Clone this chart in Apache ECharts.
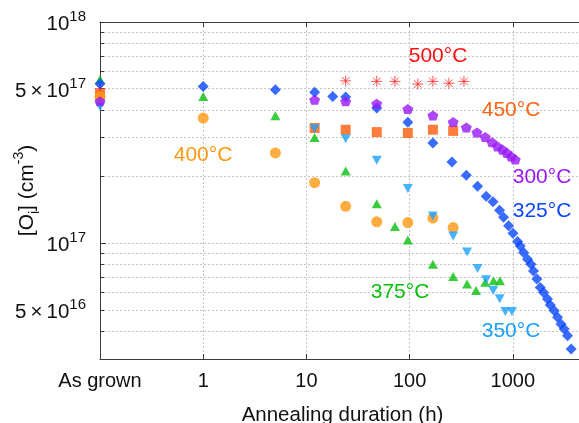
<!DOCTYPE html>
<html>
<head>
<meta charset="utf-8">
<script src="https://cdn.jsdelivr.net/npm/echarts@6/dist/echarts.min.js"></script>
<style>
  html, body { margin: 0; padding: 0; background: #fff; }
  #chart { width: 579px; height: 423px; }
</style>
</head>
<body>
<div id="chart"></div>
<script>
// Interstitial oxygen concentration vs. annealing time, one series per temperature.
// "As grown" samples are placed at 0.1 h on the log time axis.
const hours500 = [0.1, 24, 48, 72, 120, 168, 240, 336];
const oi500    = [5.0e17, 5.42e17, 5.39e17, 5.39e17, 5.24e17, 5.39e17, 5.29e17, 5.39e17];

const hours450 = [0.1, 12, 24, 48, 96, 168, 264];
const oi450    = [4.72e17, 3.32e17, 3.26e17, 3.18e17, 3.15e17, 3.26e17, 3.22e17];

const hours400 = [0.1, 1, 5, 12, 24, 48, 96, 168, 264];
const oi400    = [4.6e17, 3.68e17, 2.56e17, 1.88e17, 1.47e17, 1.25e17, 1.24e17, 1.30e17, 1.18e17];

const hours375 = [0.1, 1, 5, 12, 24, 48, 72, 96, 168, 264, 360, 440, 540, 650, 750];
const oi375    = [5.5e17, 4.61e17, 3.77e17, 3.01e17, 2.12e17, 1.51e17, 1.19e17, 1.035e17,
                  8.04e16, 7.08e16, 6.54e16, 6.12e16, 6.66e16, 6.77e16, 6.77e16];

const hours350 = [0.1, 12, 24, 48, 96, 168, 264, 360, 455, 550, 645, 745, 845, 980];
const oi350    = [4.15e17, 3.29e17, 2.97e17, 2.37e17, 1.77e17, 1.33e17, 1.08e17, 9.14e16,
                  7.69e16, 6.85e16, 6.12e16, 5.62e16, 4.92e16, 4.92e16];

const hours325 = [0.1, 1, 5, 12, 18, 24, 48, 96, 168, 257, 354, 455, 552, 642, 743, 813, 909,
                  1002, 1110, 1180, 1270, 1388, 1497, 1585, 1710, 1842, 1983, 2167, 2302,
                  2518, 2711, 2924, 3148, 3390, 3675];
const oi325    = [5.26e17, 5.11e17, 4.94e17, 4.82e17, 4.61e17, 4.58e17, 4.09e17, 3.52e17,
                  2.84e17, 2.33e17, 2.03e17, 1.81e17, 1.63e17, 1.54e17, 1.41e17, 1.31e17,
                  1.20e17, 1.11e17, 1.02e17, 9.72e16, 9.08e16, 8.47e16, 8.04e16, 7.50e16,
                  6.89e16, 6.31e16, 6.00e16, 5.60e16, 5.26e16, 4.96e16, 4.63e16, 4.32e16,
                  4.10e16, 3.82e16, 3.33e16];

const hours300 = [0.1, 12, 24, 48, 96, 168, 264, 354, 449, 540, 628, 711, 795, 877, 965, 1055];
const oi300    = [4.38e17, 4.45e17, 4.38e17, 4.27e17, 4.04e17, 3.78e17, 3.53e17, 3.34e17,
                  3.17e17, 3.02e17, 2.86e17, 2.74e17, 2.65e17, 2.56e17, 2.47e17, 2.39e17];

// Axis ranges, ticks and labels
const yMin = 3e16, yMax = 1.0001e18;   // top edge sits on 10^18
const xMin = 0.1,  xMax = 5000;
const yLabelValues = [5e16, 1e17, 5e17, 1e18];
const yMajorTicks  = [1e17, 1e18];
const yMinorTicks  = [3e16, 4e16, 5e16, 6e16, 7e16, 8e16, 9e16,
                      1e17, 2e17, 3e17, 4e17, 5e17, 6e17, 7e17, 8e17, 9e17];
const xLabelNames  = { '0.1': 'As grown', '1': '1', '10': '10', '100': '100', '1000': '1000' };

const FONT = '"Liberation Sans", Arial, Helvetica, sans-serif';
const AXIS_COLOR = '#3a3a3a';
const GRID_COLOR = '#c4c4c4';

const zip = (xs, ys) => xs.map((x, i) => [x, ys[i]]);

const PENTAGON = 'path://M5,0 L9.755,3.455 L7.939,9.045 L2.061,9.045 L0.245,3.455 Z';
const ASTERISK = 'path://M0,5 L10,5 M5,0 L5,10 M1.5,1.5 L8.5,8.5 M8.5,1.5 L1.5,8.5';

function yLabel(v) {
  const e = Math.floor(Math.log10(v) + 1e-6);
  const m = Math.round(v / Math.pow(10, e));
  return (m === 1 ? '' : '{b|' + m + '\u2009×\u2009}') + '{b|10}{s|' + e + '}';
}

function xLabel(v) {
  const key = String(Math.round(v * 10) / 10);
  return xLabelNames[key] || '';
}

const chart = echarts.init(document.getElementById('chart'), null, { renderer: 'canvas' });

const series = [
  { name: '500°C', data: zip(hours500, oi500), symbol: ASTERISK, symbolSize: 11,
    itemStyle: { color: 'rgba(0,0,0,0)', borderColor: '#ff2a2a', borderWidth: 1 } },
  { name: '450°C', data: zip(hours450, oi450), symbol: 'rect', symbolSize: 10,
    itemStyle: { color: '#ff5c0a' } },
  { name: '400°C', data: zip(hours400, oi400), symbol: 'circle', symbolSize: 11,
    itemStyle: { color: '#ff9810' } },
  { name: '375°C', data: zip(hours375, oi375), symbol: 'triangle', symbolSize: [10, 9],
    itemStyle: { color: '#08c00c' } },
  { name: '350°C', data: zip(hours350, oi350), symbol: 'triangle', symbolRotate: 180, symbolSize: [10, 9],
    itemStyle: { color: '#1aa0ff' } },
  { name: '325°C', data: zip(hours325, oi325), symbol: 'diamond', symbolSize: 11,
    itemStyle: { color: '#0846ff' } },
  { name: '300°C', data: zip(hours300, oi300), symbol: PENTAGON, symbolSize: [11, 10],
    itemStyle: { color: '#9a18f8' } }
].map(s => Object.assign({ type: 'scatter', xAxisIndex: 0, yAxisIndex: 0, silent: true }, s));

// Temperature annotations next to each data set
const annotations = [
  { text: '500°C', x: 438, y: 56,  color: '#ff1010' },
  { text: '450°C', x: 511, y: 110, color: '#ff6212' },
  { text: '400°C', x: 203, y: 155, color: '#ff9810' },
  { text: '300°C', x: 542, y: 177, color: '#9a18f8' },
  { text: '325°C', x: 542, y: 211, color: '#0846ff' },
  { text: '375°C', x: 400, y: 292, color: '#08c00c' },
  { text: '350°C', x: 511, y: 331, color: '#1aa0ff' }
];

const xAxisBase = {
  type: 'log', logBase: 10, min: xMin, max: xMax,
  axisLine: { show: true, onZero: false, lineStyle: { color: AXIS_COLOR, width: 1 } },
  axisTick: { show: true, inside: true, length: 5, lineStyle: { color: AXIS_COLOR } },
  minorTick: { show: false }
};

chart.setOption({
  animation: false,
  backgroundColor: '#ffffff',
  grid: { left: 100, top: 22, width: 485, height: 337, containLabel: false, outerBoundsMode: 'none' },
  xAxis: [
    Object.assign({}, xAxisBase, {
      position: 'bottom',
      axisLabel: { formatter: xLabel, fontFamily: FONT, fontSize: 20, color: '#111', margin: 12,
                   showMinLabel: true, showMaxLabel: false, alignMinLabel: 'center',
                   hideOverlap: false },
      splitLine: { show: true, lineStyle: { color: GRID_COLOR, type: [2, 2], width: 1 } },
      name: 'Annealing duration (h)', nameLocation: 'middle', nameGap: 46,
      nameTextStyle: { fontFamily: FONT, fontSize: 20.5, color: '#111' }
    }),
    Object.assign({}, xAxisBase, {
      position: 'top',
      axisLabel: { show: false },
      splitLine: { show: false }
    })
  ],
  yAxis: [
    {
      type: 'log', logBase: 10, min: yMin, max: yMax, position: 'left',
      axisLine: { show: true, onZero: false, lineStyle: { color: AXIS_COLOR, width: 1 } },
      axisTick: { show: true, inside: true, length: 6, customValues: yMajorTicks,
                  lineStyle: { color: AXIS_COLOR } },
      minorTick: { show: false },
      splitLine: { show: false },
      axisLabel: {
        customValues: yLabelValues, formatter: yLabel, margin: 14, padding: [5, 0, 0, 0],
        showMinLabel: true, showMaxLabel: true, hideOverlap: false,
        rich: {
          b: { fontFamily: FONT, fontSize: 20.5, color: '#111', lineHeight: 30 },
          s: { fontFamily: FONT, fontSize: 15, color: '#111', lineHeight: 15, verticalAlign: 'top' }
        }
      },
      name: '{t|[O}{sub|i}{t|] (cm}{sup|-3}{t|)}',
      nameLocation: 'middle', nameGap: 58, nameMoveOverlap: false,
      nameTextStyle: {
        rich: {
          t:   { fontFamily: FONT, fontSize: 21, color: '#111', lineHeight: 30 },
          sub: { fontFamily: FONT, fontSize: 14, color: '#111', lineHeight: 14, verticalAlign: 'bottom' },
          sup: { fontFamily: FONT, fontSize: 14, color: '#111', lineHeight: 14, verticalAlign: 'top' }
        }
      }
    },
    {
      type: 'log', logBase: 10, min: yMin, max: yMax, position: 'left', offset: 0,
      axisLine: { show: false, onZero: false },
      axisTick: { show: true, inside: true, length: 4, customValues: yMinorTicks,
                  lineStyle: { color: AXIS_COLOR } },
      axisLabel: { show: false },
      minorTick: { show: false },
      splitLine: { show: true, lineStyle: { color: GRID_COLOR, type: [2, 2], width: 1 } }
    }
  ],
  series: series,
  graphic: annotations.map(a => ({
    type: 'text', x: a.x, y: a.y, silent: true, z: 10,
    style: {
      text: a.text, fill: a.color, font: '21px ' + FONT,
      align: 'center', verticalAlign: 'middle',
      textAlign: 'center', textVerticalAlign: 'middle'
    }
  }))
});
</script>
</body>
</html>
